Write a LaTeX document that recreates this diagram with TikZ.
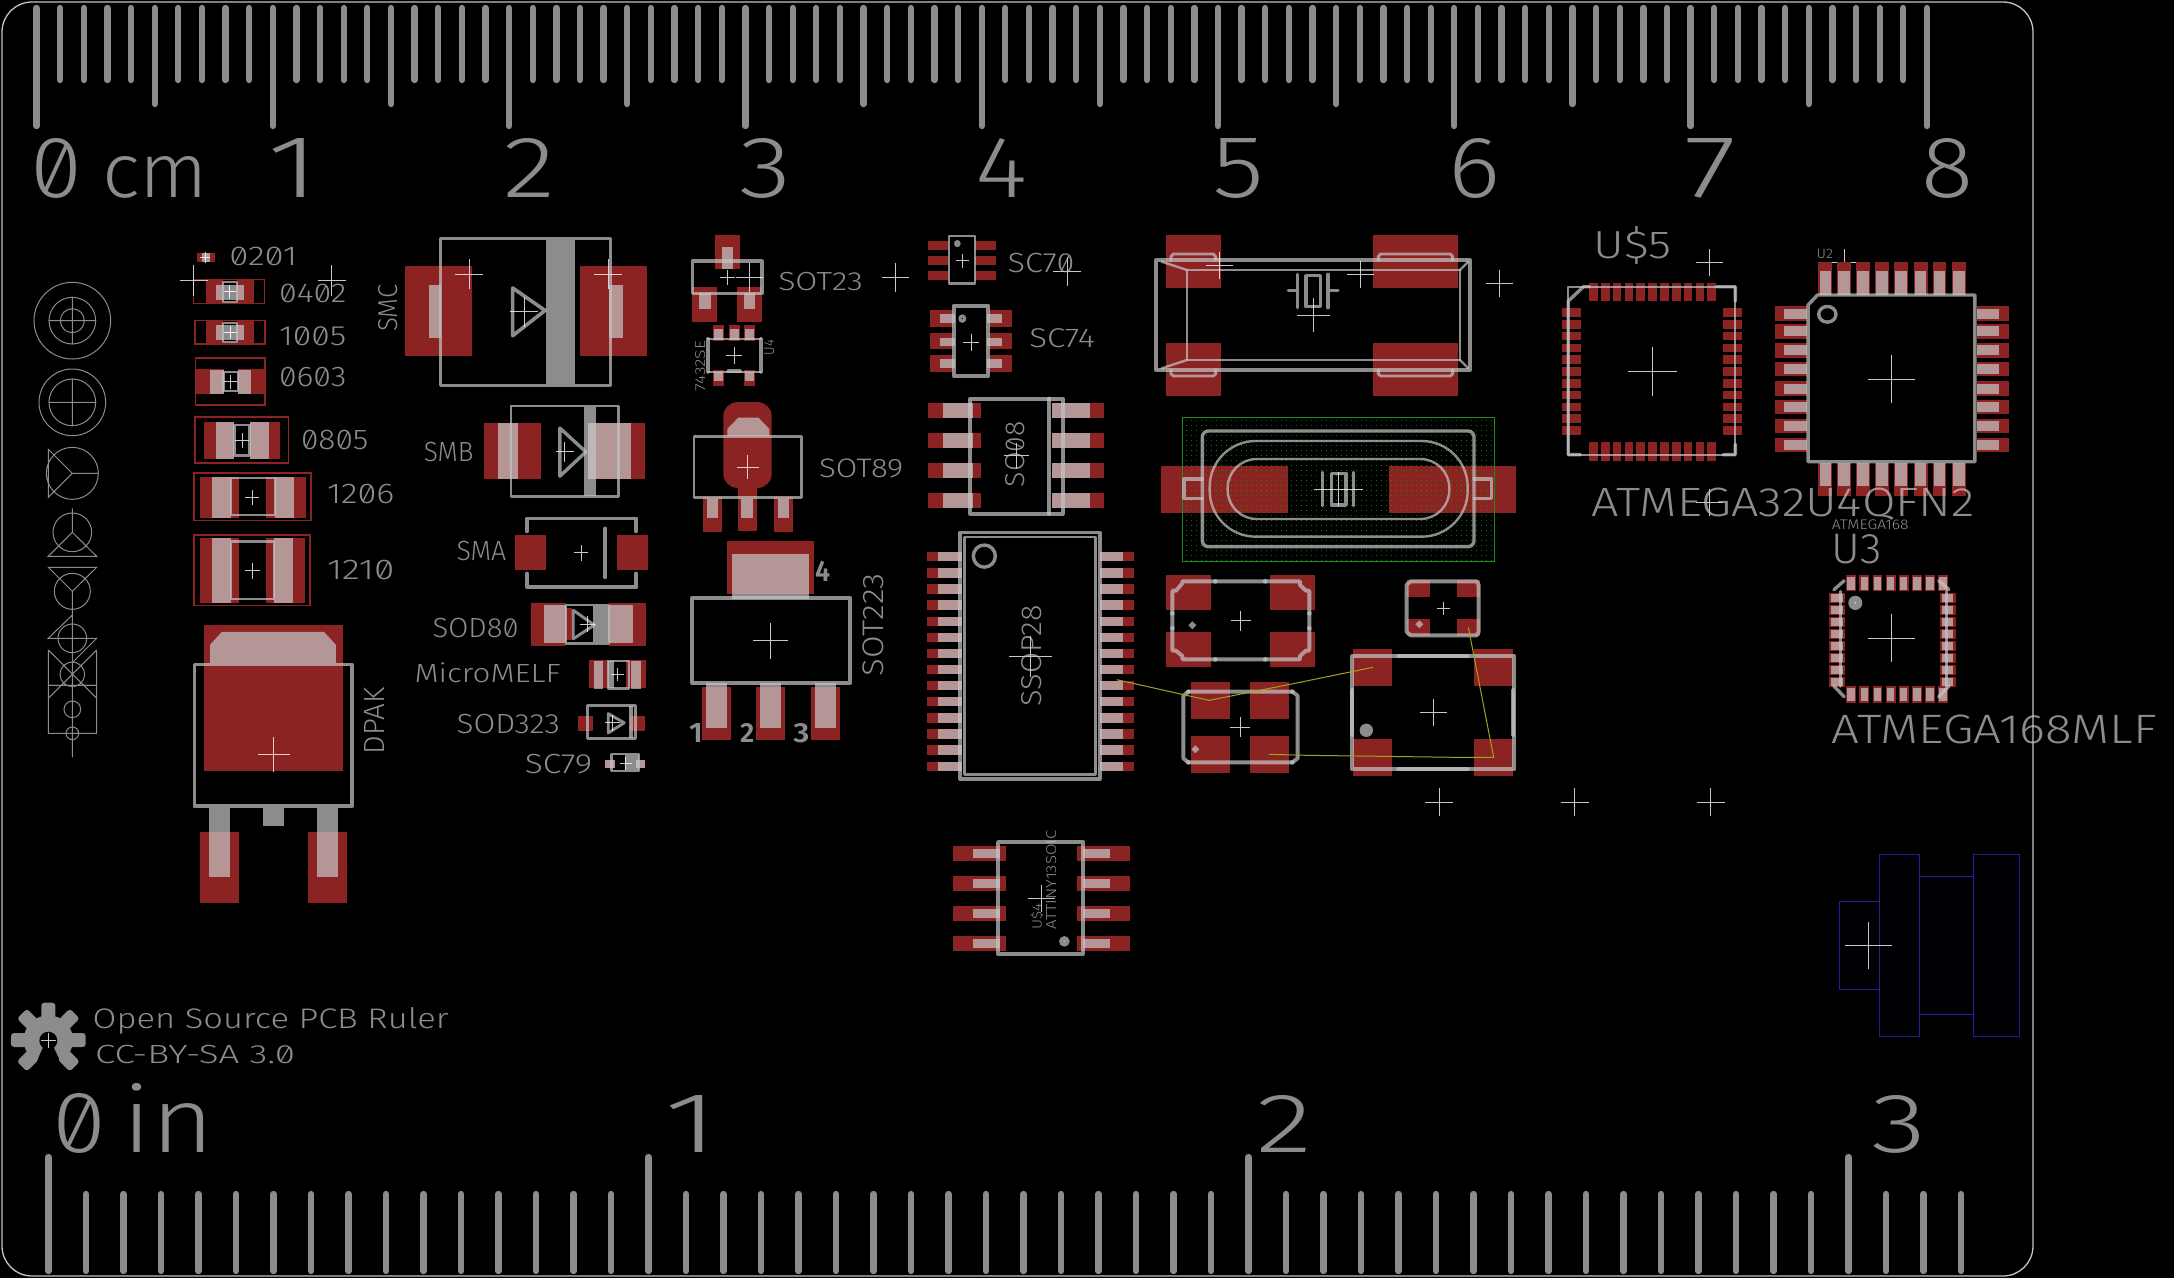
\documentclass[tikz,border=0pt]{standalone}
\usepackage{graphicx}
\usepackage{fontspec}
\usetikzlibrary{patterns.meta}
\setmainfont{Fira Sans}[UprightFont=* Light,RawFeature={+zero}]
\definecolor{padred}{HTML}{8C2323}
\definecolor{silk}{HTML}{C4C4C4}
\definecolor{solidgrey}{HTML}{8C8C8C}
\definecolor{wire}{HTML}{A8A020}
\definecolor{hatchgreen}{HTML}{1F8C1F}
\definecolor{hatchblue}{HTML}{20209C}
\tikzset{
  pad/.style={fill=padred,draw=none},
  crm/.style={fill=silk,fill opacity=.716,draw=none},
  sl/.style={draw=silk,draw opacity=.716,line width=#1+.4pt,line join=round,line cap=round},
  sl/.default=3pt,
  org/.style={draw=white,draw opacity=.78,line width=1pt},
  redbox/.style={draw=padred,line width=1.5pt},
  hole/.style={draw=solidgrey,line width=1pt},
  tick/.style={draw=solidgrey,line width=6.3pt,line cap=round},
  lab/.style={inner sep=0pt,outer sep=0pt,text=silk,text opacity=.716},
  airwire/.style={draw=wire,line width=1pt},
  zA/.style={shift={(0,220)},xscale=.42092,yscale=.45918},
  zB/.style={shift={(640,220)},xscale=.33333,yscale=.35714},
  zC/.style={shift={(1120,220)},scale=.33333},
  zD/.style={shift={(1120,560)},scale=.33333},
  zE/.style={shift={(1530,220)},xscale=.41071,yscale=.35714},
  zF/.style={shift={(1780,820)},scale=.33333},
  zG/.style={shift={(0,980)},scale=.33333},
  zI/.style={shift={(920,820)},scale=.33333},
  zJ/.style={shift={(20,270)},scale=.33333},
}
\newcommand\pd[4]{\fill[pad] (#1,#2) rectangle (#3,#4);}
\newcommand\crm[4]{\fill[crm] (#1,#2) rectangle (#3,#4);}
\newcommand\crs[3]{\draw[org] (#1,#2) ++(-#3,0) -- ++(2*#3,0) (#1,#2) ++(0,-#3) -- ++(0,2*#3);}
\newcommand\crss[4]{\draw[org] (#1,#2) ++(-#3,0) -- ++(2*#3,0) (#1,#2) ++(0,-#4) -- ++(0,2*#4);}
\newcommand\lbl[6][0]{\node[lab,rotate=#1,anchor=base west] at (#2,#3) {\resizebox{#4pt}{#5pt}{#6}};}
\begin{document}
\begin{tikzpicture}[x=1pt,y=-1pt]
\useasboundingbox (0,0) rectangle (2174,1278);
\fill[black] (0,0) rectangle (2174,1278);
% board outline
\draw[draw=silk,line width=1.3pt,rounded corners=30pt] (2,2) rectangle (2033,1276);
% top ruler
\foreach \i in {0,...,80}{
  \pgfmathsetmacro\xx{36.5+23.63*\i}
  \pgfmathsetmacro\mm{int(mod(\i,10))}
  \pgfmathsetmacro\mf{int(mod(\i,5))}
  \pgfmathsetmacro\yy{\mm==0?126:(\mf==0?104:80)}
  \draw[tick] (\xx,8) -- (\xx,\yy);
}
\lbl{30}{197}{52}{59}{0}
\lbl{102}{197}{106}{41}{cm}
\foreach \n in {1,...,8}{
  \pgfmathsetmacro\xx{267+236.3*(\n-1)}
  \lbl{\xx}{197}{52}{59}{\n}
}
% bottom ruler
\foreach \i in {0,...,51}{
  \pgfmathsetmacro\xx{48.5+37.5*\i}
  \pgfmathsetmacro\mm{int(mod(\i,16))}
  \pgfmathsetmacro\yy{\mm==0?1157:1194}
  \draw[tick] (\xx,\yy) -- (\xx,1271);
}
\lbl{52}{1152}{54}{59}{0}
\lbl{122}{1152}{92}{69}{in}
\lbl{664}{1152}{54}{57}{1}
\lbl{1256}{1152}{56}{57}{2}
\lbl{1871}{1152}{55}{57}{3}
% mounting hole symbols
\begin{scope}[zJ]
\draw[hole] (157,152) circle (115) (157,152) circle (70) (157,152) circle (36) (85,152)--(229,152) (157,80)--(157,224);
\draw[hole] (157,397) circle (100) (157,397) circle (70) (85,397)--(229,397) (157,325)--(157,469);
\draw[hole] (157,610) circle (78) (85,538)--(157,610)--(85,682)--cycle (157,610)--(232,610);
\draw[hole] (157,787) circle (58) (157,715)--(157,787)--(85,859)--(230,859)--(157,787);
\draw[hole] (85,892)--(230,892)--(157,964)--cycle (157,964) circle (54) (157,964)--(157,1040);
\draw[hole] (157,1105) circle (43) (157,1035)--(85,1105)--(230,1105)--(157,1178) (157,1035)--(157,1175);
\draw[hole] (157,1213) circle (37) (85,1140)--(230,1285) (230,1140)--(85,1285) (85,1140)--(85,1246) (230,1140)--(230,1246) (85,1246)--(230,1246);
\draw[hole] (157,1318) circle (25) (85,1246) rectangle (230,1390) (157,1178)--(157,1462) (157,1390) circle (19);
\end{scope}
% left column
\begin{scope}[zA]
% 0201
\pd{467}{72}{511}{91}\crm{480}{72}{498}{91}\crs{488}{82}{12}
% 0402
\draw[redbox] (460,130) rectangle (628,182);
\pd{490}{130}{530}{182}\pd{562}{130}{603}{182}\crm{513}{142}{530}{175}\crm{562}{142}{580}{175}
\crm{530}{142}{562}{175}\draw[sl=1.5pt] (530,135) rectangle (562,178);\crs{546}{156}{15}\crs{546}{156}{10}
\crs{460}{132}{33}\crs{788}{132}{33}
% 1005
\draw[redbox] (463,219) rectangle (630,270);
\pd{490}{219}{530}{270}\pd{563}{219}{603}{270}\crm{513}{229}{530}{261}\crm{563}{229}{580}{261}
\crm{530}{229}{563}{261}\draw[sl=1.5pt] (530,224) rectangle (563,266);\crs{547}{245}{15}\crs{547}{245}{10}
% 0603
\draw[redbox] (465,300) rectangle (630,403);
\pd{465}{325}{531}{378}\pd{565}{325}{630}{378}\crm{500}{327}{531}{378}\crm{565}{327}{596}{378}
\draw[sl=2pt] (531,331) rectangle (565,373);\crs{547}{352}{15}
% 0805
\draw[redbox] (463,429) rectangle (685,529);
\pd{485}{440}{557}{520}\pd{593}{440}{665}{520}\crm{513}{440}{557}{520}\crm{593}{440}{639}{520}
\draw[sl=2pt] (557,447) rectangle (593,513);\crs{575}{480}{16}
% 1206
\draw[redbox] (461,551) rectangle (739,654);
\pd{475}{559}{568}{648}\pd{633}{559}{727}{648}\crm{504}{559}{549}{648}\crm{653}{559}{698}{648}
\draw[sl=2pt] (549,562) rectangle (653,643);\crs{599}{604}{16}
% 1210
\draw[redbox] (461,686) rectangle (737,839);
\pd{475}{693}{568}{833}\pd{632}{693}{725}{833}\crm{504}{693}{549}{833}\crm{651}{693}{696}{833}
\draw[sl=2pt] (549,700) rectangle (651,826);\crs{600}{764}{18}
% SMC
\pd{962}{100}{1121}{297}\pd{1378}{100}{1537}{297}\crm{1019}{142}{1047}{257}\crm{1447}{142}{1480}{257}
\draw[sl=3pt] (1047,40) rectangle (1450,360);
\fill[crm] (1297,43) rectangle (1367,357);
\draw[sl=3.2pt] (1218,148)--(1295,197)--(1218,252)--cycle;
\crs{1115}{118}{33}\crs{1445}{118}{33}\crs{1245}{200}{33}
% SMB
\pd{1150}{443}{1285}{565}\pd{1397}{443}{1532}{565}\crm{1183}{443}{1230}{565}\crm{1397}{443}{1498}{565}
\draw[sl=2.5pt] (1214,405) rectangle (1470,602);
\fill[crm] (1388,407) rectangle (1417,600);
\draw[sl=3pt] (1330,453)--(1392,505)--(1330,558)--cycle;\crs{1342}{505}{22}
% SMA
\pd{1224}{686}{1297}{762}\pd{1466}{686}{1539}{762}
\draw[sl=3.5pt] (1252,678)--(1252,650)--(1512,650)--(1512,678);
\draw[sl=3.5pt] (1252,770)--(1252,800)--(1512,800)--(1512,770);
\draw[sl=3.5pt] (1438,672)--(1438,778);\crs{1381}{725}{17}
% SOD80
\pd{1262}{834}{1345}{927}\pd{1447}{834}{1535}{927}\pd{1328}{845}{1360}{915}\pd{1447}{845}{1468}{915}
\crm{1292}{838}{1345}{922}\crm{1447}{838}{1503}{922}
\draw[sl=2pt] (1345,838) rectangle (1447,922);\fill[crm] (1410,840) rectangle (1447,920);
\draw[sl=2.5pt] (1362,850)--(1412,882)--(1362,912)--cycle;\crs{1395}{880}{18}
% MicroMELF
\pd{1400}{958}{1445}{1020}\pd{1487}{958}{1535}{1020}\crm{1412}{960}{1433}{1022}\crm{1500}{960}{1522}{1022}
\fill[crm] (1445,960) rectangle (1458,1020);\draw[sl=2pt] (1445,960) rectangle (1495,1020);\crs{1467}{990}{15}
% SOD323
\pd{1373}{1080}{1408}{1112}\pd{1497}{1080}{1532}{1112}
\draw[sl=2.5pt] (1395,1057) rectangle (1510,1130);\fill[crm] (1495,1059) rectangle (1505,1128);
\draw[sl=2.5pt] (1445,1075)--(1483,1095)--(1445,1117)--cycle;\crs{1455}{1095}{17}
% SC79
\pd{1438}{1175}{1460}{1193}\pd{1510}{1175}{1533}{1193}\crm{1438}{1175}{1460}{1193}\crm{1510}{1175}{1533}{1193}
\draw[sl=2pt] (1453,1163) rectangle (1518,1200);\fill[crm] (1485,1165) rectangle (1518,1198);\crs{1487}{1184}{14}
% DPAK
\pd{485}{882}{815}{1201}\pd{475}{1333}{568}{1487}\pd{732}{1333}{824}{1487}
\fill[crm] (499,965)--(499,925)--(527,897)--(770,897)--(798,925)--(798,965)--cycle;
\draw[sl=3.5pt,line cap=butt] (462,968) rectangle (836,1277);
\crm{497}{1280}{546}{1430}\crm{753}{1280}{803}{1430}\crm{625}{1280}{675}{1320}
\crs{650}{1164}{38}
\end{scope}
% middle column
\begin{scope}[zB]
% SOT23
\pd{225}{42}{300}{138}\pd{156}{188}{231}{285}\pd{291}{188}{366}{285}
\crm{245}{75}{280}{138}\crm{178}{205}{213}{248}\crm{313}{205}{346}{248}
\draw[sl=3pt] (157,115) rectangle (366,205);
\crs{263}{161}{22}\crss{328}{161}{40}{40}\crs{767}{161}{41}
% 7432SE
\pd{219}{295}{251}{340}\pd{267}{295}{299}{340}\pd{313}{295}{345}{340}\pd{219}{420}{252}{465}\pd{312}{420}{345}{465}
\crm{222}{305}{248}{335}\crm{270}{305}{296}{335}\crm{316}{305}{342}{335}\crm{222}{425}{249}{450}\crm{315}{425}{342}{450}
\draw[sl=2pt] (204,333)--(363,333) (204,425)--(363,425);
\draw[sl=3.5pt] (204,333)--(204,425) (363,333)--(363,425) (265,424)--(300,424);
\crs{282}{380}{24}
% SC70
\foreach \y in {60,102,144}{\pd{864}{\y}{925}{\y+24}\pd{1005}{\y}{1068}{\y+24}}
\draw[sl=2pt] (927,44) rectangle (1005,178);\fill[solidgrey] (952,66) ellipse (10 and 10);\crs{967}{114}{20}
\crs{1281}{144}{41}
% SC74
\foreach \y/\e in {252/300,316/362,378/426}{\pd{870}{\y}{938}{\e}\pd{1047}{\y}{1115}{\e}}
\foreach \y in {264,329,390}{\crm{900}{\y}{945}{\y+24}\crm{1040}{\y}{1086}{\y+24}}
\draw[sl=3.5pt] (941,240) rectangle (1045,436);\fill[solidgrey] (967,276) ellipse (12 and 12);\fill[black] (967,276) circle (2);\crs{993}{342}{24}
% SOT89
\fill[pad] (295,740)--(295,870)--(352,870)--(352,740)--cycle;\fill[pad,rounded corners=14pt] (250,510) rectangle (395,750);
\pd{190}{775}{246}{873}\pd{402}{775}{459}{873}
\fill[crm] (262,605)--(262,585)--(295,553)--(355,553)--(388,585)--(388,605)--cycle;
\crm{202}{780}{233}{833}\crm{302}{780}{340}{833}\crm{415}{780}{447}{833}
\draw[sl=2.5pt] (162,607) rectangle (484,778);\crss{323}{692}{33}{33}
% SO08
\foreach \y in {512,596,680,764}{\pd{864}{\y}{1023}{\y+41}\pd{1235}{\y}{1392}{\y+41}\crm{909}{\y}{1000}{\y+41}\crm{1235}{\y}{1350}{\y+41}}
\draw[sl=3.5pt] (991,500) rectangle (1268,822);\draw[sl=3.5pt] (1228,500)--(1228,822);\crss{1130}{660}{37}{37}
% SOT223
\pd{261}{899}{522}{1047}\pd{186}{1307}{273}{1455}\pd{348}{1307}{435}{1455}\pd{513}{1307}{600}{1455}
\crm{276}{935}{507}{1060}\crm{198}{1297}{261}{1421}\crm{360}{1297}{423}{1421}\crm{525}{1297}{588}{1421}
\draw[sl=3.5pt] (157,1058) rectangle (630,1297);\crss{391}{1178}{52}{50}
% SSOP28
\foreach \i in {0,...,13}{
  \pgfmathsetmacro\y{930+45.1*\i}
  \pd{862}{\y}{965}{\y+26}\pd{1380}{\y}{1482}{\y+26}\crm{893}{\y}{965}{\y+26}\crm{1380}{\y}{1449}{\y+26}
}
\draw[sl=3.5pt] (961,875) rectangle (1380,1565);\draw[sl=2pt] (973,887) rectangle (1367,1552);
\draw[sl=3pt] (1033,941) ellipse (33 and 31);\crss{1172}{1222}{64}{58}
\end{scope}
% crystals
\begin{scope}[zC]
\pd{138}{45}{303}{203}\pd{759}{45}{1014}{203}\pd{138}{369}{303}{527}\pd{759}{369}{1014}{527}
\draw[sl=3.5pt] (109,121) rectangle (1050,450);\draw[sl=2pt] (201,150) rectangle (1020,420);
\draw[sl=2pt] (125,125)--(201,150) (1045,125)--(1020,150) (125,445)--(201,420) (1045,445)--(1020,420);
\foreach \a/\b in {153/287,775/998}{
 \draw[sl=2.5pt] (\a,121)--(\a,110)--(\a+7,102)--(\b-7,102)--(\b,110)--(\b,121);
 \draw[sl=2.5pt] (\a,450)--(\a,462)--(\a+7,468)--(\b-7,468)--(\b,462)--(\b,450);
}
\draw[sl=3pt] (558,167) rectangle (602,260) (533,163)--(533,263) (624,163)--(624,263) (505,212)--(533,212) (624,212)--(654,212);
\crs{299}{136}{41}\crs{722}{163}{41}\crs{1138}{190}{41}\crs{581}{285}{50}
% crystal 2
\pd{123}{738}{504}{878}\pd{807}{738}{1188}{878}
\fill[pattern={Dots[radius=.55pt,distance=5.4pt]},pattern color=green!65!black] (187,592) rectangle (1123,1024);
\draw[draw=hatchgreen,line width=1.5pt] (187,592) rectangle (1123,1024);
\draw[sl=3pt,rounded corners=6pt] (247,633) rectangle (1062,980);
\draw[sl=2pt,rounded corners=46pt] (269,663) rectangle (1043,950);
\draw[sl=2pt,rounded corners=29pt] (323,717) rectangle (988,897);
\draw[sl=3pt] (247,777)--(192,777)--(192,836)--(247,836) (1062,777)--(1115,777)--(1115,836)--(1062,836);
\draw[sl=3pt] (634,760) rectangle (678,855) (608,757)--(608,857) (700,757)--(700,857);
\crss{655}{807}{74}{50}
\end{scope}
\begin{scope}[zD]
\pd{138}{45}{273}{150}\pd{450}{45}{585}{150}\pd{138}{216}{273}{321}\pd{450}{216}{585}{321}
\draw[sl=3.5pt] (187,64)--(540,64)--(540,75)--(558,92)--(568,92)--(568,272)--(558,272)--(540,288)--(540,298)--(187,298)--(187,288)--(168,272)--(157,272)--(157,92)--(168,92)--(187,70)--cycle;
\foreach \p in {(286,64),(436,64),(286,298),(436,298),(157,160),(157,205),(568,160),(568,205)}{\fill[crm] \p circle (7);}
\fill[solidgrey] (217,184)--(229,196)--(217,208)--(205,196)--cycle;\crs{362}{182}{30}
\pd{861}{60}{930}{111}\pd{1011}{60}{1080}{111}\pd{861}{177}{930}{228}\pd{1011}{177}{1080}{228}
\draw[sl=3.5pt] (872,64)--(1070,64)--(1076,74)--(1076,216)--(1070,226)--(872,226)--(860,216)--(860,74)--cycle;
\fill[crm] (898,181)--(910,193)--(898,205)--(886,193)--cycle;\crs{970}{145}{20}
\pd{213}{366}{330}{477}\pd{390}{366}{507}{477}\pd{213}{528}{330}{639}\pd{390}{528}{507}{639}
\draw[sl=3.5pt] (205,395)--(517,395) (205,607)--(517,607) (533,407)--(533,595)--(517,607) (517,395)--(533,407) (205,395)--(190,407)--(190,595)--(205,607);
\foreach \p in {(205,395),(517,395),(205,607),(517,607)}{\fill[crm] \p circle (7);}
\fill[crm] (226,556)--(238,568)--(226,580)--(214,568)--cycle;\crs{360}{501}{30}
\pd{699}{267}{816}{378}\pd{1062}{267}{1179}{378}\pd{699}{537}{816}{648}\pd{1062}{537}{1179}{648}
\draw[sl=3.5pt] (697,289) rectangle (1183,628);
\draw[sl=3.5pt] (835,289)--(1043,289) (835,628)--(1043,628) (697,390)--(697,525) (1180,390)--(1180,525);
\fill[solidgrey] (739,511) circle (20);\crs{940}{457}{40}
\crs{957}{727}{42}\crs{1364}{727}{42}\crs{1772}{727}{42}
\draw[airwire] (-10,359)--(186,403)--(267,421)--(510,373)--(759,322);
\draw[airwire] (447,583)--(564,586)--(789,589)--(1011,592)--(1121,592)--(1045,202);
\end{scope}
% QFN / TQFP / MLF
\begin{scope}[zE]
\foreach \i in {0,...,10}{
  \pgfmathsetmacro\x{144+28.8*\i}\pgfmathsetmacro\y{247+33*\i}
  \pd{\x}{175}{\x+21}{227}\pd{\x}{622}{\x+21}{675}\pd{78}{\y}{124}{\y+24}\pd{470}{\y}{516}{\y+24}
}
\draw[sl=1.5pt] (93,187) rectangle (500,657);
\draw[sl=3pt] (93,227)--(130,187)--(145,187) (453,187)--(500,187)--(500,227) (93,227)--(93,657)--(123,657) (470,657)--(500,657)--(500,628);
\crss{298}{424}{60}{68}\crss{436}{120}{33}{38}\crss{436}{790}{33}{38}\crss{766}{120}{33}{38}
\foreach \x in {702,748,794,840,886,934,980,1027}{
  \pd{\x}{118}{\x+34}{210}\pd{\x}{680}{\x+34}{773}\crm{\x+3}{143}{\x+31}{210}\crm{\x+3}{680}{\x+31}{745}
}
\foreach \y in {242,292,345,398,452,504,557,610}{
  \pd{597}{\y}{675}{\y+40}\pd{1088}{\y}{1166}{\y+40}\crm{618}{\y+6}{675}{\y+34}\crm{1088}{\y+6}{1143}{\y+34}
}
\draw[sl=3pt] (700,210)--(1083,210)--(1083,677)--(677,677)--(677,238)--cycle;
\draw[sl=3pt] (724,264) ellipse (21 and 22);\crss{880}{446}{58}{67}
\foreach \i in {0,...,7}{
  \pgfmathsetmacro\x{770+32*\i}\pgfmathsetmacro\y{1043+33.7*\i}
  \pd{\x}{994}{\x+24}{1040}\pd{\x}{1306}{\x+24}{1352}\pd{727}{\y}{766}{\y+30}\pd{998}{\y}{1037}{\y+30}
  \crm{\x+3}{1000}{\x+21}{1036}\crm{\x+3}{1310}{\x+21}{1346}\crm{733}{\y+4}{762}{\y+26}\crm{1002}{\y+4}{1031}{\y+26}
}
\draw[sl=3pt] (765,1010)--(740,1035) (995,1010)--(1020,1035) (740,1305)--(765,1335) (995,1335)--(1020,1305);
\draw[sl=2.5pt] (755,1040)--(755,1305) (1015,1040)--(1015,1305);
\fill[solidgrey] (792,1072) ellipse (17 and 20);\fill[silk] (792,1072) circle (3);\crss{880}{1171}{58}{67}
\end{scope}
% blue part
\begin{scope}[zF]
\fill[pattern={Dots[radius=.6pt,distance=8pt]},pattern color=blue!85!black] (178,244) rectangle (298,508) (298,103) rectangle (419,650) (419,169) rectangle (580,584) (580,103) rectangle (718,650);
\draw[draw=hatchblue,line width=1.3pt] (178,244) rectangle (298,508) (298,103) rectangle (419,650) (419,169) rectangle (580,584) (580,103) rectangle (718,650);
\crs{265}{376}{70}
\end{scope}
% SOIC
\begin{scope}[zI]
\foreach \y in {78,168,258,348}{\pd{99}{\y}{258}{\y+45}\pd{471}{\y}{630}{\y+45}\crm{159}{\y+9}{240}{\y+36}\crm{489}{\y+9}{570}{\y+36}}
\draw[sl=3.5pt] (234,66) rectangle (489,402);
\fill[solidgrey] (433,364) circle (16);\fill[silk] (433,364) circle (2);
\crs{364}{235}{40}
\end{scope}
% gear
\begin{scope}[zG]
\foreach \a in {0,45,90,135,180,225,-45}{
  \fill[solidgrey,rotate around={\a:(145,180)},rounded corners=3pt] (145,159) rectangle (257,201);
}
\fill[solidgrey] (145,180) circle (74);
\fill[black] (130,200)--(160,200)--(192,268)--(100,268)--cycle;
\fill[black] (145,182) circle (27);
\foreach \a in {225,-45}{
  \fill[solidgrey,rotate around={\a:(145,180)},rounded corners=3pt] (205,159) rectangle (257,201);
}
\crs{145}{182}{22}
\end{scope}
% labels
\lbl{92.7}{1028.3}{356}{21}{Open Source PCB Ruler}
\lbl{95}{1063.3}{200}{18.3}{CC-BY-SA 3.0}
\lbl{229.4}{265}{67.8}{18.4}{0201}
\lbl{279}{302.6}{67.4}{18.4}{0402}
\lbl{279}{345.3}{67.4}{18.8}{1005}
\lbl{279}{386.2}{67.4}{19.2}{0603}
\lbl{301}{449.6}{67.4}{19.3}{0805}
\lbl{327}{503.3}{67.4}{19.3}{1206}
\lbl{327}{579}{67.4}{19.3}{1210}
\lbl[90]{397.7}{331.6}{47.3}{19}{SMC}
\lbl{423.8}{461}{49.7}{19.3}{SMB}
\lbl{456.6}{560.7}{49.7}{19.3}{SMA}
\lbl{432.7}{637.8}{85.8}{19.3}{SOD80}
\lbl{414.6}{682.8}{146}{19.8}{MicroMELF}
\lbl{456.6}{733.3}{103.2}{19.3}{SOD323}
\lbl{524.8}{773.3}{67.4}{19.3}{SC79}
\lbl[90]{384.3}{754}{66.6}{20}{DPAK}
\lbl{778.3}{290.7}{84.4}{18.2}{SOT23}
\lbl{1007.7}{272.5}{66.6}{19.3}{SC70}
\lbl{1029.3}{347.9}{65.7}{18.9}{SC74}
\lbl[90]{705}{391.4}{50.7}{10}{7432SE}
\lbl[90]{774}{355}{15.4}{10}{U4}
\lbl{819}{477.9}{84.3}{18.6}{SOT89}
\lbl[90]{1024}{487.1}{66}{19}{SO08}
\lbl{815}{581.4}{15}{20.4}{\textbf{4}}
\lbl[90]{883.3}{676}{102.5}{20.7}{SOT223}
\lbl[90]{1041}{706.4}{101.4}{20}{SSOP28}
\lbl{689}{742}{13.7}{19}{\textbf{1}}
\lbl{740}{742}{14.3}{19}{\textbf{2}}
\lbl{793.3}{742}{16}{19}{\textbf{3}}
\lbl{1593.7}{258.2}{78}{32}{U\$5}
\lbl{1816.7}{258.6}{16.3}{9.3}{U2}
\lbl{1591.6}{516.4}{383.2}{28.5}{ATMEGA32U4QFN2}
\lbl{1831.8}{529}{76.9}{9.7}{ATMEGA168}
\lbl{1831.8}{563.6}{50.2}{29.3}{U3}
\lbl{1831.8}{743.2}{325.2}{28.6}{ATMEGA168MLF}
\lbl[90]{1041.7}{929.3}{26}{11}{U\$4}
\lbl[90]{1056}{929.3}{98.7}{10}{ATTINY13SOIC}
\end{tikzpicture}
\end{document}
